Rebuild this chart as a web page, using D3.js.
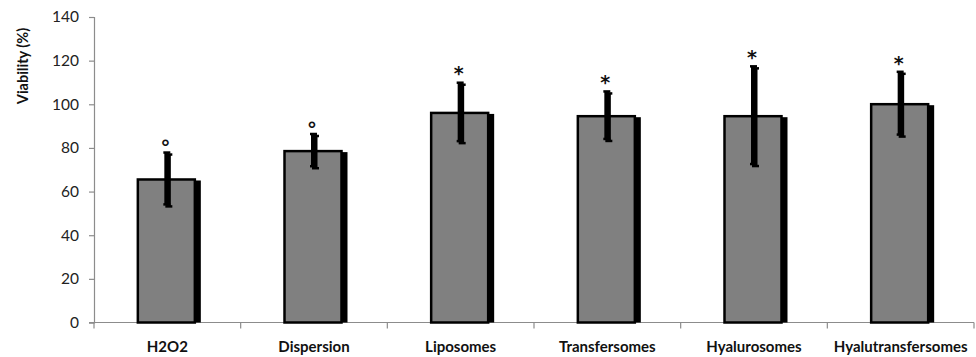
<!DOCTYPE html>
<html>
<head>
<meta charset="utf-8">
<script src="https://cdn.jsdelivr.net/npm/d3@7"></script>
<style>
  html, body { margin: 0; padding: 0; background: #fff; }
  svg { display: block; }
  text { font-family: Lato, "Open Sans", "Liberation Sans", Arial, sans-serif; }
  text.star { font-family: "DejaVu Sans", sans-serif; }
</style>
</head>
<body>
<svg id="chart" width="976" height="357"></svg>
<script>
// Cell viability per formulation
const categories = ["H2O2", "Dispersion", "Liposomes", "Transfersomes", "Hyalurosomes", "Hyalutransfersomes"];
const viability = [66, 79, 96.5, 95, 95, 100.5];
const errors = [12, 7.5, 13.5, 11, 22.5, 14.5];
const marks = ["°", "°", "*", "*", "*", "*"];
const yTicks = [0, 20, 40, 60, 80, 100, 120, 140];

const svg = d3.select("#chart");
const margin = { left: 94, right: 2, top: 17, bottom: 35 };
const y0 = 322.5;

const x = d3.scaleBand().domain(categories).range([margin.left, 974]).paddingInner(0).paddingOuter(0);
const y = d3.scaleLinear().domain([0, 140]).range([y0, margin.top]);

const axisColor = "#8c8c8c";

// y axis
const yAxis = svg.append("g").attr("transform", `translate(${margin.left},0)`)
  .call(d3.axisLeft(y).tickValues(yTicks).tickSize(5).tickPadding(10));
yAxis.select(".domain").attr("stroke", axisColor).attr("stroke-width", 1.2);
yAxis.selectAll(".tick line").attr("stroke", axisColor).attr("stroke-width", 1.2);
yAxis.selectAll(".tick text").attr("font-size", 15.5).attr("fill", "#222");

// x axis baseline with boundary ticks
svg.append("line")
  .attr("x1", margin.left - 5).attr("x2", 974)
  .attr("y1", y0).attr("y2", y0)
  .attr("stroke", axisColor).attr("stroke-width", 1.2);
const bounds = categories.map(c => x(c)).concat([x(categories[categories.length - 1]) + x.bandwidth()]);
svg.append("g").selectAll("line").data(bounds).join("line")
  .attr("x1", d => d).attr("x2", d => d)
  .attr("y1", y0).attr("y2", y0 + 6)
  .attr("stroke", axisColor).attr("stroke-width", 1.2);

// category labels
svg.append("g").selectAll("text").data(categories).join("text")
  .attr("x", d => x(d) + x.bandwidth() / 2)
  .attr("y", 352)
  .attr("text-anchor", "middle")
  .attr("font-size", 15)
  .attr("font-weight", "bold")
  .attr("fill", "#111")
  .text(d => d);

// y axis title
svg.append("text")
  .attr("transform", `translate(28,66) rotate(-90)`)
  .attr("text-anchor", "middle")
  .attr("font-size", 14.5)
  .attr("font-weight", "bold")
  .attr("fill", "#111")
  .text("Viability (%)");

const barW = 59;
const cx = d => x(d) + x.bandwidth() / 2 - 1;

const bars = svg.append("g");
categories.forEach((c, i) => {
  const v = viability[i];
  const left = cx(c) - barW / 2;
  // drop shadow
  bars.append("rect")
    .attr("x", left + 5).attr("y", y(v) + 2)
    .attr("width", barW).attr("height", y0 - y(v) - 2)
    .attr("fill", "#000");
  // bar
  bars.append("rect")
    .attr("x", left + 1).attr("y", y(v) + 1)
    .attr("width", barW - 2).attr("height", y0 - y(v) - 1)
    .attr("fill", "#808080")
    .attr("stroke", "#000").attr("stroke-width", 2.5);
});

// error bars (with shadow)
const eb = svg.append("g");
categories.forEach((c, i) => {
  const v = viability[i], e = errors[i];
  const ex = cx(c);
  [[2, 2], [0, 0]].forEach(([dx, dy]) => {
    eb.append("rect")
      .attr("x", ex - 2 + dx).attr("y", y(v + e) + dy)
      .attr("width", 4.5).attr("height", y(v - e) - y(v + e))
      .attr("fill", "#000");
    eb.append("rect")
      .attr("x", ex - 3 + dx).attr("y", y(v + e) - 1 + dy)
      .attr("width", 7).attr("height", 2.5)
      .attr("fill", "#000");
    eb.append("rect")
      .attr("x", ex - 3 + dx).attr("y", y(v - e) - 1.5 + dy)
      .attr("width", 7).attr("height", 2.5)
      .attr("fill", "#000");
  });
});

// significance marks
svg.append("g").selectAll("text").data(categories).join("text")
  .attr("class", (d, i) => marks[i] === "*" ? "star" : "deg")
  .attr("x", d => cx(d) - 1)
  .attr("y", (d, i) => y(viability[i] + errors[i]) + (marks[i] === "*" ? -2 : 2))
  .attr("text-anchor", "middle")
  .attr("font-size", 19)
  .attr("font-weight", "bold")
  .attr("fill", "#111")
  .text((d, i) => marks[i]);
</script>
</body>
</html>
